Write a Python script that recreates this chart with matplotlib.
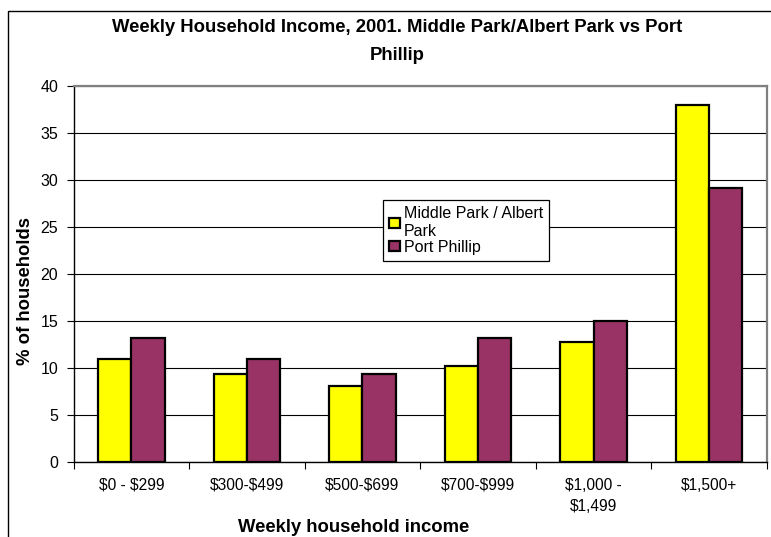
import numpy as np
import matplotlib.pyplot as plt
from matplotlib.patches import Rectangle, Patch

plt.rcParams['font.family'] = ['Liberation Sans', 'DejaVu Sans']
plt.rcParams['text.parse_math'] = False  # dollar signs are literal

# data
categories = ['$0 - $299', '$300-$499', '$500-$699', '$700-$999',
              '$1,000 -\n$1,499', '$1,500+']
middle_park = [11.0, 9.4, 8.1, 10.2, 12.8, 38.0]
port_phillip = [13.2, 11.0, 9.4, 13.2, 15.0, 29.1]
series_names = ['Middle Park / Albert\nPark', 'Port Phillip']
yticks = [0, 5, 10, 15, 20, 25, 30, 35, 40]

W, H = 771, 537
fig = plt.figure(figsize=(W / 100, H / 100), dpi=100)
# axes box in pixels: left 73.5, right 767, top 86, bottom 462
ax = fig.add_axes([73.5 / W, (H - 462) / H, (767 - 73.5) / W, (462 - 86) / H])

x = np.arange(len(categories))
bw = 0.288
ax.bar(x - bw / 2, middle_park, bw, color='#FFFF00', edgecolor='black',
       linewidth=1.6, zorder=3)
ax.bar(x + bw / 2, port_phillip, bw, color='#993366', edgecolor='black',
       linewidth=1.6, zorder=3)

ax.set_xlim(-0.5, len(categories) - 0.5)
ax.set_ylim(0, 40)
ax.set_yticks(yticks)
ax.yaxis.grid(True, color='black', linewidth=0.8, zorder=0)
ax.set_axisbelow(True)

ax.set_xticks(x)
ax.set_xticklabels(categories, fontsize=11.2, linespacing=1.5)
ax.set_xticks(np.arange(len(categories) + 1) - 0.5, minor=True)
ax.tick_params(axis='x', which='major', length=0, pad=11.5)
ax.tick_params(axis='x', which='minor', length=5, width=0.8, direction='out')
ax.tick_params(axis='y', labelsize=11.5, length=5, width=0.8, pad=6)

for side in ['top', 'right']:
    ax.spines[side].set_color('#808080')
    ax.spines[side].set_linewidth(1.6)
ax.spines['left'].set_color('black')
ax.spines['bottom'].set_color('black')
ax.spines['left'].set_linewidth(1.0)
ax.spines['bottom'].set_linewidth(1.0)

fig.text(397 / W, 1 - 28 / H, 'Weekly Household Income, 2001. Middle Park/Albert Park vs Port',
         ha='center', va='center', fontsize=13.3, fontweight='bold')
fig.text(397 / W, 1 - 55 / H, 'Phillip',
         ha='center', va='center', fontsize=13.3, fontweight='bold')
fig.text(25 / W, 1 - 291 / H, '% of households', rotation=90,
         ha='center', va='center', fontsize=13.3, fontweight='bold')
fig.text(354 / W, 1 - 528 / H, 'Weekly household income',
         ha='center', va='center', fontsize=13.3, fontweight='bold')

handles = [Patch(facecolor='#FFFF00', edgecolor='black', linewidth=1.6),
           Patch(facecolor='#993366', edgecolor='black', linewidth=1.6)]
leg = ax.legend(handles, series_names, loc='upper left',
                bbox_to_anchor=(383 / W, 1 - 200 / H),
                bbox_transform=fig.transFigure, fontsize=11.5,
                handlelength=0.65, handleheight=0.65, handletextpad=0.25,
                borderpad=0.4, borderaxespad=0, labelspacing=0.05,
                fancybox=False, framealpha=1, edgecolor='black')
leg.get_frame().set_linewidth(0.9)

# outer chart frame
fig.patches.append(Rectangle((8 / W, -0.1), 1.2, (H - 11) / H + 0.1,
                             transform=fig.transFigure, fill=False,
                             edgecolor='black', linewidth=1.0))

fig.savefig('out.png', dpi=100)
